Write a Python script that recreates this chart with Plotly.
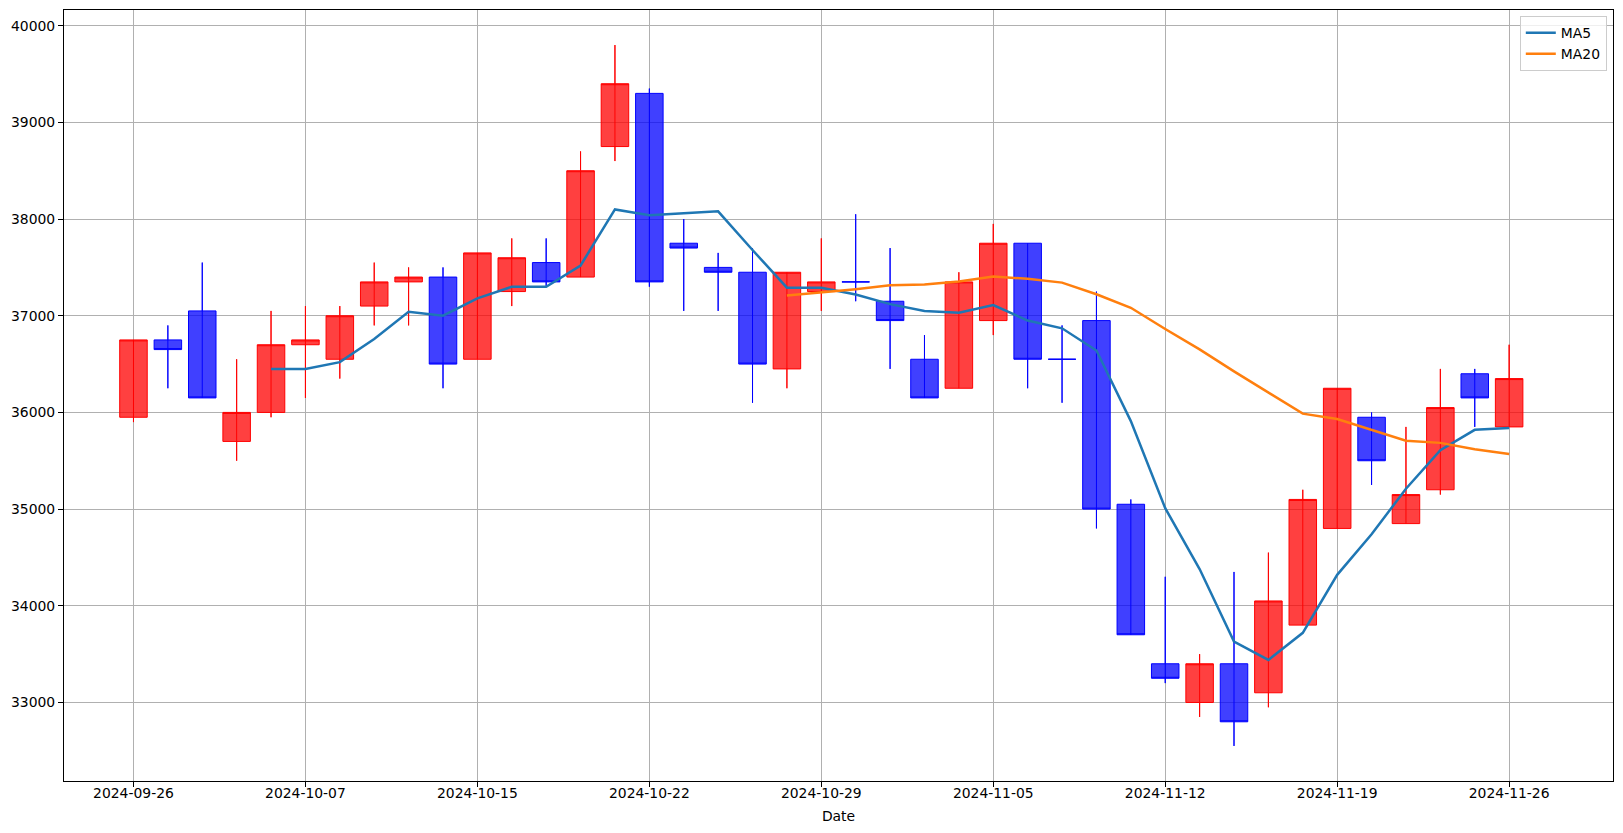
import plotly.graph_objects as go
import pandas as pd

dates = [
    "2024-09-26", "2024-09-27", "2024-09-30", "2024-10-01", "2024-10-02",
    "2024-10-07", "2024-10-08", "2024-10-09", "2024-10-10", "2024-10-11",
    "2024-10-15", "2024-10-16", "2024-10-17", "2024-10-18", "2024-10-21",
    "2024-10-22", "2024-10-23", "2024-10-24", "2024-10-25", "2024-10-28",
    "2024-10-29", "2024-10-30", "2024-10-31", "2024-11-01", "2024-11-04",
    "2024-11-05", "2024-11-06", "2024-11-07", "2024-11-08", "2024-11-11",
    "2024-11-12", "2024-11-13", "2024-11-14", "2024-11-15", "2024-11-18",
    "2024-11-19", "2024-11-20", "2024-11-21", "2024-11-22", "2024-11-25",
    "2024-11-26",
]
opens = [35950, 36750, 37050, 35700, 36000, 36700, 36550, 37100, 37350, 37400,
         36550, 37250, 37550, 37400, 38750, 39300, 37750, 37500, 37450, 36450,
         37250, 37350, 37150, 36550, 36250, 36950, 37750, 36550, 36950, 35050,
         33400, 33000, 33400, 33100, 33800, 34800, 35950, 34850, 35200, 36400,
         35850]
highs = [36750, 36900, 37550, 36550, 37050, 37100, 37100, 37550, 37500, 37500,
         37650, 37800, 37800, 38700, 39800, 39350, 38000, 37650, 37700, 37450,
         37800, 38050, 37700, 36800, 37450, 37950, 37750, 36900, 37250, 35100,
         34300, 33500, 34350, 34550, 35200, 36250, 36000, 35850, 36450, 36450,
         36700]
lows = [35900, 36250, 36150, 35500, 35950, 36150, 36350, 36900, 36900, 36250,
        36550, 37100, 37300, 37400, 38600, 37300, 37050, 37050, 36100, 36250,
        37050, 37150, 36450, 36150, 36250, 36800, 36250, 36100, 34800, 33700,
        33200, 32850, 32550, 32950, 33800, 34800, 35250, 34850, 35150, 35850,
        35850]
closes = [36750, 36650, 36150, 36000, 36700, 36750, 37000, 37350, 37400, 36500,
          37650, 37600, 37350, 38500, 39400, 37350, 37700, 37450, 36500, 37450,
          37350, 37350, 36950, 36150, 37350, 37750, 36550, 36550, 35000, 33700,
          33250, 33400, 32800, 34050, 35100, 36250, 35500, 35150, 36050, 36150,
          36350]
tick_dates = ["2024-09-26", "2024-10-07", "2024-10-15", "2024-10-22", "2024-10-29",
              "2024-11-05", "2024-11-12", "2024-11-19", "2024-11-26"]

df = pd.DataFrame({"date": dates, "open": opens, "high": highs,
                   "low": lows, "close": closes})
df["ma5"] = df["close"].rolling(5).mean()
df["ma20"] = df["close"].rolling(20).mean()

up = df[df["close"] > df["open"]]
down = df[df["close"] <= df["open"]]

FONT = "DejaVu Sans"
fig = go.Figure()


def add_candles(sub, line_col, fill_col):
    style = dict(line=dict(color=line_col, width=1), fillcolor=fill_col)
    fig.add_trace(go.Candlestick(
        x=sub["date"], open=sub["open"], high=sub["high"], low=sub["low"],
        close=sub["close"], increasing=style, decreasing=style,
        whiskerwidth=0, showlegend=False, hoverinfo="skip"))
    wx, wy = [], []
    for d, lo, hi in zip(sub["date"], sub["low"], sub["high"]):
        wx += [d, d, None]
        wy += [lo, hi, None]
    fig.add_trace(go.Scatter(x=wx, y=wy, mode="lines",
                             line=dict(color=line_col, width=1),
                             showlegend=False, hoverinfo="skip"))


add_candles(up, "red", "rgba(255,0,0,0.75)")
add_candles(down, "blue", "rgba(0,0,255,0.75)")

fig.add_trace(go.Scatter(x=df["date"], y=df["ma5"], mode="lines", name="MA5",
                         line=dict(color="#1f77b4", width=2.5)))
fig.add_trace(go.Scatter(x=df["date"], y=df["ma20"], mode="lines", name="MA20",
                         line=dict(color="#ff7f0e", width=2.5)))

lo_all, hi_all = min(lows), max(highs)
pad = (hi_all - lo_all) * 0.05

axis_common = dict(
    showline=True, mirror=True, linecolor="black", linewidth=1,
    ticks="outside", ticklen=5, tickcolor="black", tickwidth=1,
    showgrid=True, gridcolor="#b0b0b0", gridwidth=1, zeroline=False,
    tickfont=dict(family=FONT, size=13.9, color="black"),
)

fig.update_layout(
    width=1623, height=833,
    margin=dict(l=64, r=10, t=10, b=52, autoexpand=False),
    paper_bgcolor="white", plot_bgcolor="white",
    font=dict(family=FONT, size=13.9, color="black"),
    boxgap=0.2, boxgroupgap=0,
    showlegend=True,
    legend=dict(x=0.996, y=0.992, xanchor="right", yanchor="top",
                bgcolor="rgba(255,255,255,0.8)", bordercolor="#cccccc",
                borderwidth=1, font=dict(family=FONT, size=13.9, color="black"),
                itemwidth=30, tracegroupgap=0),
    xaxis=dict(type="category", categoryorder="array", categoryarray=dates,
               range=[-2.02, 43.02], tickvals=tick_dates, ticktext=tick_dates,
               rangeslider=dict(visible=False), ticklabelstandoff=-6,
               title=dict(text="Date", font=dict(family=FONT, size=13.9, color="black"),
                          standoff=11),
               **axis_common),
    yaxis=dict(range=[lo_all - pad, hi_all + pad], dtick=1000, tick0=0,
               tickformat="d", **axis_common),
)

fig.write_html("out.html")
